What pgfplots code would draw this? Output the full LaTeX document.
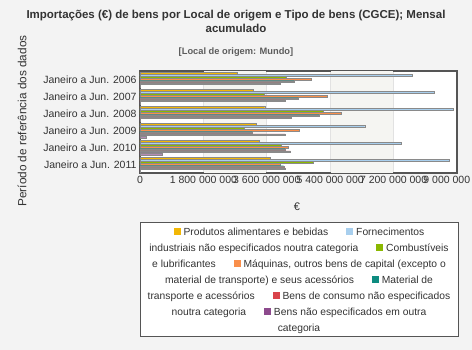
\documentclass[border=0pt]{standalone}
\usepackage{fontspec}
\setmainfont{Liberation Sans}
\usepackage{pgfplots}
\usepackage{pgfplotstable}
\pgfplotsset{compat=1.18}
\definecolor{bg}{HTML}{F3F3F3}
\definecolor{axisc}{HTML}{555555}
\definecolor{gridc}{HTML}{E2E2E2}
\definecolor{bandc}{HTML}{F5F5F2}
\definecolor{labc}{HTML}{333333}
\definecolor{bord}{HTML}{8A8A8A}
\definecolor{cyel}{HTML}{F2B705}
\definecolor{cblu}{HTML}{A8CFEE}
\definecolor{cgrn}{HTML}{8AB800}
\definecolor{cora}{HTML}{F98F4B}
\definecolor{ctea}{HTML}{0E8C80}
\definecolor{cred}{HTML}{D9434B}
\definecolor{cpur}{HTML}{8D4A8D}
\newcommand{\sq}[1]{\textcolor{#1}{\rule{7pt}{7pt}}}
\pgfplotstableread{
y  yel     blu     grn     ora     tea     red     pur
5  2.77e9  7.74e9  4.16e9  4.85e9  4.37e9  3.97e9  0.01e9
4  3.22e9  8.35e9  3.52e9  5.32e9  4.50e9  4.11e9  0.01e9
3  3.54e9  8.89e9  5.20e9  5.72e9  5.08e9  4.28e9  0.01e9
2  3.31e9  6.38e9  2.96e9  4.51e9  3.19e9  4.12e9  0.18e9
1  3.38e9  7.42e9  4.02e9  4.22e9  4.11e9  4.27e9  0.63e9
0  3.71e9  8.79e9  4.93e9  3.98e9  4.08e9  4.12e9  0.01e9
}\datatable
\begin{document}
\begin{tikzpicture}[x=1pt,y=1pt]
\fill[bg] (0,0) rectangle (472,350);
\useasboundingbox (0,0) rectangle (472,350);
\node[align=center, font=\fontsize{11.5}{14}\selectfont\bfseries, text=labc] at (236,329)
  {Importações (€) de bens por Local de origem e Tipo de bens (CGCE); Mensal\\acumulado};
\node[font=\fontsize{9.3}{11}\selectfont\bfseries, text=labc!80] at (236,298) {[Local de origem: Mundo]};
\node[rotate=90, font=\fontsize{11.8}{13}\selectfont, text=labc] at (22,229) {Período de referência dos dados};
\node[font=\fontsize{11}{13}\selectfont, text=labc] at (297,143) {€};
\begin{axis}[
  at={(140pt,177pt)}, anchor=south west, scale only axis,
  width=317pt, height=102pt,
  xmin=0, xmax=9e9, ymin=-0.5, ymax=5.5,
  xbar, bar width=1.8pt,
  ytick={0,1,2,3,4,5},
  yticklabels={Janeiro a Jun. 2011,Janeiro a Jun. 2010,Janeiro a Jun. 2009,Janeiro a Jun. 2008,Janeiro a Jun. 2007,Janeiro a Jun. 2006},
  xtick={0,1.8e9,3.6e9,5.4e9,7.2e9,9e9},
  xticklabels={0,1 800 000 000,3 600 000 000,5 400 000 000,7 200 000 000,9 000 000 000},
  scaled x ticks=false,
  major tick length=0pt,
  xmajorgrids, grid style={gridc, line width=0.6pt},
  axis line style={draw=axisc, line width=2.2pt},
  axis background/.style={fill=white},
  tick label style={font=\fontsize{10.5}{12}\selectfont, text=labc},
  every axis plot/.append style={draw=bord, line width=0.35pt},
]
\fill[bandc] ([xshift=0.4pt]axis cs:1.8e9,-0.5) rectangle ([xshift=-0.4pt]axis cs:3.6e9,5.5);
\fill[bandc] ([xshift=0.4pt]axis cs:5.4e9,-0.5) rectangle ([xshift=-0.4pt]axis cs:7.2e9,5.5);
\addplot[fill=cyel, bar shift=6.3pt] table[x=yel, y=y] {\datatable};
\addplot[fill=cblu, bar shift=4.2pt] table[x=blu, y=y] {\datatable};
\addplot[fill=cgrn, bar shift=2.1pt] table[x=grn, y=y] {\datatable};
\addplot[fill=cora, bar shift=0pt] table[x=ora, y=y] {\datatable};
\addplot[fill=ctea, bar shift=-2.1pt] table[x=tea, y=y] {\datatable};
\addplot[fill=cred, bar shift=-4.2pt] table[x=red, y=y] {\datatable};
\addplot[fill=cpur, bar shift=-6.3pt] table[x=pur, y=y] {\datatable};
\end{axis}
\draw[draw=axisc, fill=white, line width=0.8pt] (140,14) rectangle (458,128);
\node[align=center, font=\fontsize{10.3}{16}\selectfont, text=labc] at (299,69.5) {%
\sq{cyel} Produtos alimentares e bebidas\hspace{18pt}\sq{cblu} Fornecimentos\\
industriais não especificados noutra categoria\hspace{18pt}\sq{cgrn} Combustíveis\\
e lubrificantes\hspace{18pt}\sq{cora} Máquinas, outros bens de capital (excepto o\\
material de transporte) e seus acessórios\hspace{18pt}\sq{ctea} Material de\\
transporte e acessórios\hspace{18pt}\sq{cred} Bens de consumo não especificados\\
noutra categoria\hspace{18pt}\sq{cpur} Bens não especificados em outra\\
categoria};
\end{tikzpicture}
\end{document}
